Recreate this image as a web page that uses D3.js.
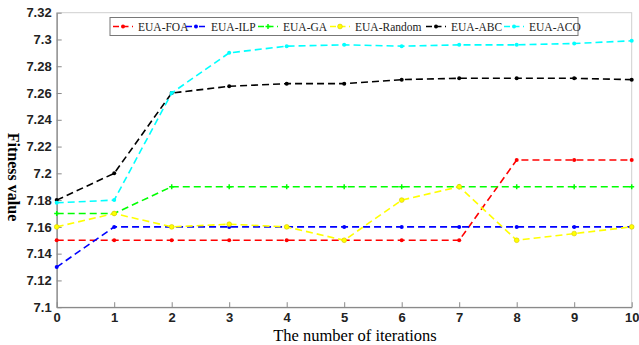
<!DOCTYPE html>
<html>
<head>
<meta charset="utf-8">
<script src="https://cdn.jsdelivr.net/npm/d3@7"></script>
<style>
  body { margin: 0; background: #fff; }
  svg { display: block; }
</style>
</head>
<body>
<div id="chart"></div>
<script>
const width = 639;
const height = 345;

// data
const iterations = [0, 1, 2, 3, 4, 5, 6, 7, 8, 9, 10];
const foa = [7.15, 7.15, 7.15, 7.15, 7.15, 7.15, 7.15, 7.15, 7.21, 7.21, 7.21];
const ilp = [7.13, 7.16, 7.16, 7.16, 7.16, 7.16, 7.16, 7.16, 7.16, 7.16, 7.16];
const ga = [7.17, 7.17, 7.19, 7.19, 7.19, 7.19, 7.19, 7.19, 7.19, 7.19, 7.19];
const rnd = [7.16, 7.17, 7.16, 7.162, 7.16, 7.15, 7.18, 7.19, 7.15, 7.155, 7.16];
const abc = [7.18, 7.20, 7.26, 7.265, 7.267, 7.267, 7.27, 7.271, 7.271, 7.271, 7.27];
const aco = [7.178, 7.18, 7.26, 7.29, 7.295, 7.296, 7.295, 7.296, 7.296, 7.297, 7.299];
const yTicks = [7.1, 7.12, 7.14, 7.16, 7.18, 7.2, 7.22, 7.24, 7.26, 7.28, 7.3, 7.32];

const series = [
  {name: 'EUA-FOA', values: foa, color: '#ff0000', marker: 'dot'},
  {name: 'EUA-ILP', values: ilp, color: '#0000ff', marker: 'dot', dashdot: true},
  {name: 'EUA-GA', values: ga, color: '#00ff00', marker: 'plus'},
  {name: 'EUA-Random', values: rnd, color: '#ffff00', marker: 'circle'},
  {name: 'EUA-ABC', values: abc, color: '#000000', marker: 'dot'},
  {name: 'EUA-ACO', values: aco, color: '#00ffff', marker: 'dot'}
];

const margin = {left: 56.7, right: 7.3, top: 12.7, bottom: 37.8};

const x = d3.scaleLinear()
  .domain([0, 10])
  .range([margin.left, width - margin.right]);

const y = d3.scaleLinear()
  .domain([7.1, 7.32])
  .range([height - margin.bottom, margin.top]);

const svg = d3.select('#chart')
  .append('svg')
  .attr('width', width)
  .attr('height', height);

// frame: light top/right, darker left/bottom
svg.append('rect')
  .attr('x', x(0)).attr('y', y(7.32))
  .attr('width', x(10) - x(0)).attr('height', y(7.1) - y(7.32))
  .attr('fill', 'none').attr('stroke', '#cfcfcf').attr('stroke-width', 1);

const xAxis = svg.append('g')
  .attr('transform', `translate(0,${y(7.1)})`)
  .call(d3.axisBottom(x).tickValues(iterations).tickSizeInner(-5).tickSizeOuter(0).tickPadding(6).tickFormat(d3.format('d')));

const yAxis = svg.append('g')
  .attr('transform', `translate(${x(0)},0)`)
  .call(d3.axisLeft(y).tickValues(yTicks).tickSizeInner(-5).tickSizeOuter(0).tickPadding(5).tickFormat(d => +d.toFixed(2)));

[xAxis, yAxis].forEach(g => {
  g.select('.domain').attr('stroke', '#8a8a8a').attr('stroke-width', 1.3);
  g.selectAll('.tick line').attr('stroke', '#8a8a8a');
  g.selectAll('.tick text')
    .attr('fill', '#222')
    .style('font-family', 'Liberation Sans, Arial, sans-serif')
    .style('font-size', '13px')
    .style('font-weight', 'bold');
});

// axis titles
svg.append('text')
  .attr('x', 355).attr('y', 341)
  .attr('text-anchor', 'middle')
  .style('font-family', 'Liberation Serif, Times New Roman, serif')
  .style('font-size', '16.5px')
  .text('The number of iterations');

svg.append('text')
  .attr('transform', 'translate(8,177) rotate(90)')
  .attr('text-anchor', 'middle')
  .style('font-family', 'Liberation Serif, Times New Roman, serif')
  .style('font-size', '16px')
  .style('font-weight', 'bold')
  .text('Fitness value');

const line = d3.line()
  .x((d, i) => x(iterations[i]))
  .y(d => y(d));

function drawMarker(g, type, color, cx, cy) {
  if (type === 'circle') {
    g.append('circle').attr('cx', cx).attr('cy', cy).attr('r', 2.4)
      .attr('fill', color).attr('stroke', '#d8c800').attr('stroke-width', 0.6);
  } else if (type === 'plus') {
    g.append('path')
      .attr('d', `M${cx - 2.5},${cy}H${cx + 2.5}M${cx},${cy - 2.5}V${cy + 2.5}`)
      .attr('stroke', color).attr('stroke-width', 1.5);
  } else {
    g.append('circle').attr('cx', cx).attr('cy', cy).attr('r', 2).attr('fill', color);
  }
}

const plot = svg.append('g');
series.forEach(s => {
  plot.append('path')
    .datum(s.values)
    .attr('d', line)
    .attr('fill', 'none')
    .attr('stroke', s.color)
    .attr('stroke-width', 1.6)
    .attr('stroke-dasharray', '7,4');
  const mg = plot.append('g');
  s.values.forEach((v, i) => drawMarker(mg, s.marker, s.color, x(iterations[i]), y(v)));
});

// legend
const legendX = [113, 186, 258, 330, 426, 504];
const legend = svg.append('g');
legend.append('rect')
  .attr('x', 110).attr('y', 17.5)
  .attr('width', 468).attr('height', 18)
  .attr('fill', '#fff').attr('stroke', '#777').attr('stroke-width', 1);

series.forEach((s, i) => {
  const lx = legendX[i];
  const ly = 26.5;
  legend.append('path')
    .attr('d', `M${lx},${ly}H${lx + 20}`)
    .attr('stroke', s.color)
    .attr('stroke-width', 1.6)
    .attr('stroke-dasharray', s.dashdot ? '6,2.5,2,2.5' : '6,3.5');
  drawMarker(legend, s.marker, s.color, lx + 10, ly);
  legend.append('text')
    .attr('x', lx + 25).attr('y', ly + 4)
    .style('font-family', 'Liberation Serif, Times New Roman, serif')
    .style('font-size', '11.5px')
    .attr('fill', '#222')
    .text(s.name);
});
</script>
</body>
</html>
